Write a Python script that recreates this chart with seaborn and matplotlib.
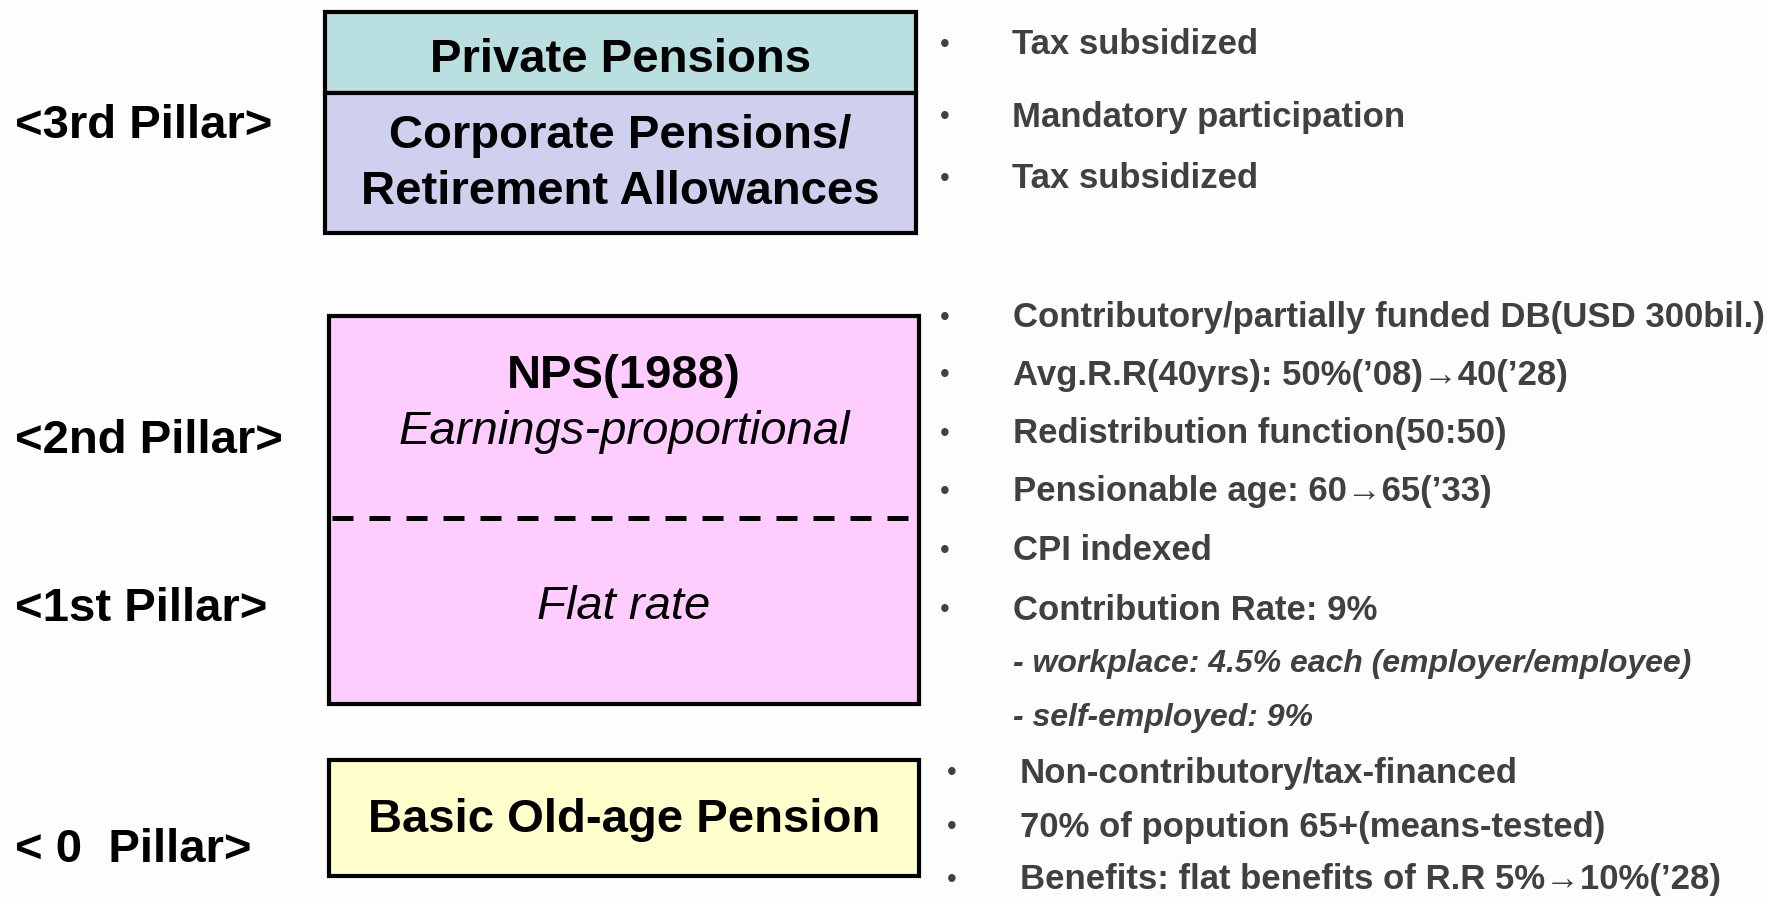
import matplotlib.pyplot as plt
import seaborn as sns

# pillar labels on the left
pillar_labels = ["<3rd Pillar>", "<2nd Pillar>", "<1st Pillar>", "< 0  Pillar>"]

# boxes: name, fill colour
box_names = ["Private Pensions", "Corporate Pensions/\nRetirement Allowances", "NPS", "Basic Old-age Pension"]
box_colors = ["#badfe0", "#cfcfee", "#ffccff", "#ffffcc"]

nps_title = "NPS(1988)"
nps_upper = "Earnings-proportional"
nps_lower = "Flat rate"

# bullet points on the right
bullets_3rd = ["Tax subsidized", "Mandatory participation", "Tax subsidized"]
bullets_nps = [
    "Contributory/partially funded DB(USD 300bil.)",
    "Avg.R.R(40yrs): 50%(\u201908)\u219240(\u201928)",
    "Redistribution function(50:50)",
    "Pensionable age: 60\u219265(\u201933)",
    "CPI indexed",
    "Contribution Rate: 9%",
]
sub_nps = ["- workplace: 4.5% each (employer/employee)", "- self-employed: 9%"]
bullets_basic = [
    "Non-contributory/tax-financed",
    "70% of popution 65+(means-tested)",
    "Benefits: flat benefits of R.R 5%\u219210%(\u201928)",
]

# layout (pixels, y down)
W, H = 1767, 897
label_y = [126, 441, 609, 850]
box_left = [325, 325, 329, 329]
box_right = [916, 916, 919, 919]
box_top = [12, 93, 316, 760]
box_bottom = [93, 233, 704, 876]
dash_y = 518
bullet_y_3rd = [45, 117, 179]
bullet_y_nps = [318, 375, 434, 492, 551, 610]
sub_y_nps = [664, 718]
bullet_y_basic = [773, 827, 880]

sns.set_theme(style="white")
plt.rcParams["font.family"] = ["Liberation Sans", "DejaVu Sans"]

fig = plt.figure(figsize=(W / 100, H / 100), dpi=100, facecolor="#fdfdfd")
ax = fig.add_axes([0, 0, 1, 1])
ax.set_facecolor("#fdfdfd")
ax.set_xlim(0, W)
ax.set_ylim(H, 0)
ax.axis("off")

# boxes drawn as bars
for left, right, top, bottom, col in zip(box_left, box_right, box_top, box_bottom, box_colors):
    ax.bar(left, bottom - top, width=right - left, bottom=top, align="edge",
           color=col, edgecolor="black", linewidth=3, zorder=2)

ax.plot([box_left[2] + 3, box_right[2] - 2], [dash_y, dash_y], color="black",
        lw=3.6, linestyle=(0, (4.2, 3.2)), zorder=3)

# box texts
bold_kw = dict(ha="center", va="center", fontsize=34, fontweight="bold", color="black", zorder=4)
ax.text((box_left[0] + box_right[0]) / 2, 60, box_names[0], **bold_kw)
ax.text((box_left[1] + box_right[1]) / 2, 164, box_names[1], linespacing=1.36, **bold_kw)
ax.text((box_left[2] + box_right[2]) / 2, 376, nps_title, **bold_kw)
ax.text((box_left[2] + box_right[2]) / 2, 432, nps_upper, ha="center", va="center",
        fontsize=34, style="italic", color="black", zorder=4)
ax.text((box_left[2] + box_right[2]) / 2, 607, nps_lower, ha="center", va="center",
        fontsize=34, style="italic", color="black", zorder=4)
ax.text((box_left[3] + box_right[3]) / 2, 820, box_names[3], **bold_kw)

# pillar labels
for lab, y in zip(pillar_labels, label_y):
    ax.text(15, y, lab, ha="left", va="center", fontsize=34, fontweight="bold", color="black")

# bullets
grey = "#404040"
txt_kw = dict(ha="left", va="center", fontsize=25, fontweight="bold", color=grey)


def bullet_list(items, ys, bx, tx):
    for item, y in zip(items, ys):
        ax.text(bx, y, "\u2022", ha="center", va="center", fontsize=20, color=grey)
        ax.text(tx, y, item, **txt_kw)


bullet_list(bullets_3rd, bullet_y_3rd, 945, 1012)
bullet_list(bullets_nps, bullet_y_nps, 945, 1013)
for item, y in zip(sub_nps, sub_y_nps):
    ax.text(1013, y, item, ha="left", va="center", fontsize=23, fontweight="bold",
            style="italic", color=grey)
bullet_list(bullets_basic, bullet_y_basic, 952, 1020)

fig.savefig("out.png", dpi=100, facecolor=fig.get_facecolor())
